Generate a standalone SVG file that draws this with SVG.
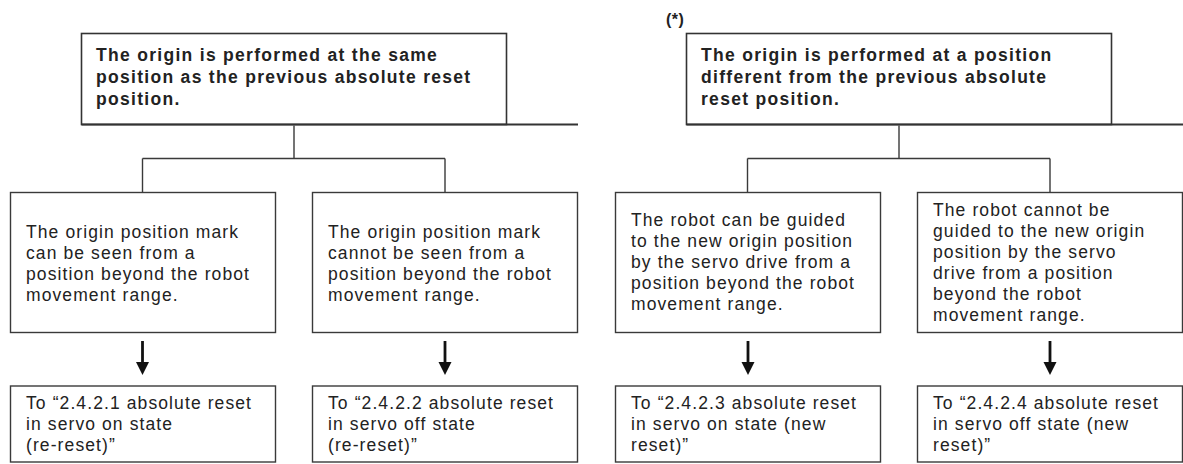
<svg xmlns="http://www.w3.org/2000/svg" width="1183" height="464" viewBox="0 0 1183 464">
<defs>
<style>
.box{fill:#fff;stroke:#3a3a3a;stroke-width:1.4}
.top{fill:#fff;stroke:#333;stroke-width:1.6}
.base{stroke:#333;stroke-width:2.2;fill:none}
.con{stroke:#3a3a3a;stroke-width:1.4;fill:none}
.arr{stroke:#111;stroke-width:2.8;fill:none}
.t{font-family:"Liberation Sans",Arial,sans-serif;font-size:17.5px;letter-spacing:1.1px;fill:#222}
.b{font-family:"Liberation Sans",Arial,sans-serif;font-size:17.5px;font-weight:bold;letter-spacing:1.3px;fill:#222}
</style>
<marker id="ah" markerUnits="userSpaceOnUse" markerWidth="14" markerHeight="14" viewBox="0 0 14 14" refX="7" refY="1" orient="0">
<path d="M0.5,0 L13.5,0 L7,13 Z" fill="#111"/>
</marker>
</defs>
<text class="b" x="666" y="25" style="font-size:16px;letter-spacing:0.5px">(*)</text>
<g id="top-left">
<rect class="top" x="81.5" y="33.5" width="425" height="91"/>
<line class="base" x1="81.5" y1="124.5" x2="578" y2="124.5"/>
<text class="b" x="96" y="61">The origin is performed at the same</text>
<text class="b" x="96" y="83">position as the previous absolute reset</text>
<text class="b" x="96" y="105">position.</text>
</g>
<g id="top-right">
<rect class="top" x="686.5" y="33.5" width="425" height="91"/>
<line class="base" x1="686.5" y1="124.5" x2="1183" y2="124.5"/>
<text class="b" x="701" y="61">The origin is performed at a position</text>
<text class="b" x="701" y="83">different from the previous absolute</text>
<text class="b" x="701" y="105">reset position.</text>
</g>
<g id="connectors">
<path class="con" d="M294 125.5V158.5M142.5 158.5H445M142.5 158.5V192.5M445 158.5V192.5"/>
<path class="con" d="M899 125.5V158.5M747.5 158.5H1050M747.5 158.5V192.5M1050 158.5V192.5"/>
<line class="arr" x1="142.5" y1="341" x2="142.5" y2="363" marker-end="url(#ah)"/>
<line class="arr" x1="445" y1="341" x2="445" y2="363" marker-end="url(#ah)"/>
<line class="arr" x1="748" y1="341" x2="748" y2="363" marker-end="url(#ah)"/>
<line class="arr" x1="1050" y1="341" x2="1050" y2="363" marker-end="url(#ah)"/>
</g>
<g id="case1">
<rect class="box" x="10.5" y="192.5" width="265" height="140"/>
<text class="t" x="26" y="237.5">The origin position mark</text>
<text class="t" x="26" y="258.5">can be seen from a</text>
<text class="t" x="26" y="279.5">position beyond the robot</text>
<text class="t" x="26" y="300.5">movement range.</text>
</g>
<g id="case2">
<rect class="box" x="312.5" y="192.5" width="265" height="140"/>
<text class="t" x="328" y="237.5">The origin position mark</text>
<text class="t" x="328" y="258.5">cannot be seen from a</text>
<text class="t" x="328" y="279.5">position beyond the robot</text>
<text class="t" x="328" y="300.5">movement range.</text>
</g>
<g id="case3">
<rect class="box" x="615.5" y="192.5" width="265" height="140"/>
<text class="t" x="631" y="226">The robot can be guided</text>
<text class="t" x="631" y="247">to the new origin position</text>
<text class="t" x="631" y="268">by the servo drive from a</text>
<text class="t" x="631" y="289">position beyond the robot</text>
<text class="t" x="631" y="310">movement range.</text>
</g>
<g id="case4">
<rect class="box" x="917.5" y="192.5" width="265" height="140"/>
<text class="t" x="933" y="215.5">The robot cannot be</text>
<text class="t" x="933" y="236.5">guided to the new origin</text>
<text class="t" x="933" y="257.5">position by the servo</text>
<text class="t" x="933" y="278.5">drive from a position</text>
<text class="t" x="933" y="299.5">beyond the robot</text>
<text class="t" x="933" y="320.5">movement range.</text>
</g>
<g id="result1">
<rect class="box" x="10.5" y="386" width="265" height="76"/>
<text class="t" x="26" y="408.5">To “2.4.2.1 absolute reset</text>
<text class="t" x="26" y="429.5">in servo on state</text>
<text class="t" x="26" y="450.5">(re-reset)”</text>
</g>
<g id="result2">
<rect class="box" x="312.5" y="386" width="265" height="76"/>
<text class="t" x="328" y="408.5">To “2.4.2.2 absolute reset</text>
<text class="t" x="328" y="429.5">in servo off state</text>
<text class="t" x="328" y="450.5">(re-reset)”</text>
</g>
<g id="result3">
<rect class="box" x="615.5" y="386" width="265" height="76"/>
<text class="t" x="631" y="408.5">To “2.4.2.3 absolute reset</text>
<text class="t" x="631" y="429.5">in servo on state (new</text>
<text class="t" x="631" y="450.5">reset)”</text>
</g>
<g id="result4">
<rect class="box" x="917.5" y="386" width="265" height="76"/>
<text class="t" x="933" y="408.5">To “2.4.2.4 absolute reset</text>
<text class="t" x="933" y="429.5">in servo off state (new</text>
<text class="t" x="933" y="450.5">reset)”</text>
</g>
</svg>
